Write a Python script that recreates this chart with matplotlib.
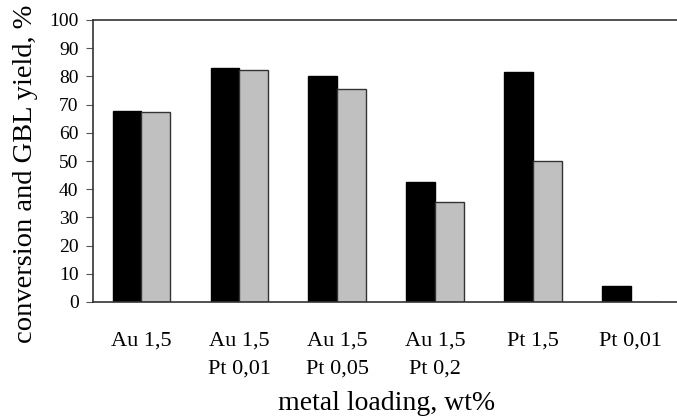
import matplotlib
matplotlib.use('Agg')
import matplotlib.pyplot as plt
import numpy as np

# ----------------------------------------------------------------------------------------------------------------------
# data
categories = ['Au 1,5', 'Au 1,5\nPt 0,01', 'Au 1,5\nPt 0,05', 'Au 1,5\nPt 0,2', 'Pt 1,5', 'Pt 0,01']
conversion = [67.9, 83.0, 80.2, 42.4, 81.4, 5.7]
gbl_yield = [67.3, 82.1, 75.6, 35.4, 50.1, 0.0]
y_ticks = [0, 10, 20, 30, 40, 50, 60, 70, 80, 90, 100]
# ----------------------------------------------------------------------------------------------------------------------

plt.rcParams['font.family'] = ['Liberation Serif', 'DejaVu Serif']

fig = plt.figure(figsize=(6.77, 4.17), dpi=100)
ax = fig.add_axes([92.5 / 677, (417 - 302) / 417, 587.4 / 677, 282 / 417])

x_pos = np.arange(len(categories))
bar_w = 0.294
ax.bar(x_pos - bar_w / 2, conversion, bar_w, color='black', edgecolor='black', linewidth=1.0)
ax.bar(x_pos + bar_w / 2, gbl_yield, bar_w, color='#c0c0c0', edgecolor='#333333', linewidth=1.0)

ax.set_xlim(-0.5, len(categories) - 0.5)
ax.set_ylim(0, 100)
ax.set_yticks(y_ticks)
ax.set_xticks(x_pos)
ax.set_xticklabels(categories, fontsize=16, linespacing=1.65)
ax.tick_params(axis='x', length=0, pad=21)
ax.tick_params(axis='y', labelsize=14, length=5, width=0.8, direction='out', pad=5, color='#555555')

for side in ['top', 'left', 'bottom', 'right']:
    ax.spines[side].set_linewidth(1.2)
    ax.spines[side].set_color('#333333')

ax.set_xlabel('metal loading, wt%', fontsize=20, labelpad=9)
fig.text(26 / 677, 1 - 174 / 417, 'conversion and GBL yield, %', fontsize=20.5,
         rotation=90, ha='center', va='center')

fig.savefig('out.png', dpi=100)
